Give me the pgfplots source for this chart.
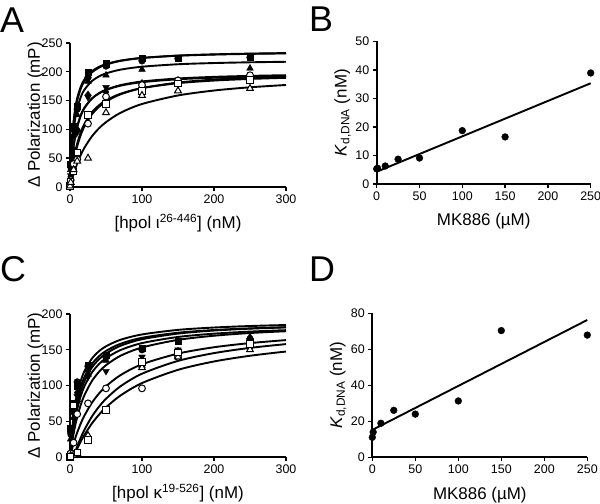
\documentclass[border=0pt]{standalone}
\usepackage{fontspec}
\setmainfont{Liberation Sans}
\usepackage{pgfplots}
\usepackage{pgfplotstable}
\pgfplotsset{compat=1.18}

% fitted binding curves, panel A
\pgfplotstableread{
x a1 a2 a3 a4 a5 a6 a7 a8
0 0 0 0 0 0 0 0 0
1 37.5 34.9 30.4 20.2 19.6 10.3 11.4 5.0
2 64.7 60.8 53.5 36.7 35.7 19.6 21.6 9.8
3 85.3 80.8 71.6 50.3 49.2 28.1 30.8 14.4
5 114.6 109.7 98.2 71.7 70.4 42.9 46.5 22.8
7.5 138.3 133.6 120.7 91.1 89.8 58.2 62.5 32.4
10 154.2 150.0 136.2 105.3 104.2 70.8 75.5 41.0
15 174.4 170.9 156.3 124.8 124.0 90.5 95.2 55.8
20 186.6 183.7 168.8 137.5 137.0 105.2 109.6 68.0
30 200.6 198.6 183.5 153.1 153.1 125.4 129.0 87.2
40 208.4 207.0 191.8 162.3 162.6 138.8 141.6 101.5
50 213.4 212.4 197.2 168.4 168.9 148.3 150.4 112.6
70 219.4 218.9 203.7 175.9 176.8 160.8 161.8 128.7
100 224.1 224.0 208.8 182.0 183.2 171.7 171.7 144.1
150 227.9 228.2 213.1 187.0 188.4 181.3 180.2 158.9
200 229.9 230.3 215.2 189.7 191.2 186.5 184.8 167.5
250 231.1 231.6 216.5 191.3 192.9 189.7 187.6 173.1
300 231.9 232.5 217.4 192.4 194.1 192.0 189.6 177.1
}\curvesA

% measured points, panel A
\pgfplotstableread{
x s1 s2 s3 s4 s5 s6 s7 s8
0 8 6 5 5 4 3 2 2
1 40 35 30 20 18 12 10 8
5 105 100 90 65 60 40 27 30
10 140 135 125 95 100 48 60 45
25 199 190 183 156 160 110 125 50
50 214 210 194 173 165 157 144 129
100 224 219 204 178 180 177 167 159
150 224 223 nan 183 185 185 180 167
250 226 225 206 188 190 194 186 171
}\ptsA

% fitted binding curves, panel C
\pgfplotstableread{
x c1 c2 c3 c4 c5 c6 c7 c8
0 0 0 0 0 0 0 0 0
1 14.8 12.7 9.9 11.2 7.6 4.1 0 0
2 27.4 23.8 18.8 21.2 14.6 8.0 0 0
3 38.4 33.5 26.9 30.2 21.1 11.8 0 0
5 56.5 50.0 40.9 45.5 32.8 18.8 0 0
7.5 73.8 66.3 55.3 61.0 45.2 26.9 7.6 6.0
10 87.3 79.2 67.1 73.5 55.9 34.2 14.6 11.6
15 106.7 98.3 85.5 92.4 73.1 47.0 27.1 21.8
20 120.0 111.8 98.9 106.1 86.4 57.8 38.0 30.8
30 137.1 129.5 117.5 124.6 105.6 75.2 55.9 46.3
40 147.7 140.7 129.7 136.4 118.8 88.5 70.0 58.9
50 154.8 148.4 138.2 144.7 128.4 98.9 81.4 69.4
70 163.9 158.3 149.5 155.5 141.5 114.4 98.8 85.9
100 171.4 166.7 159.3 164.7 153.2 129.7 116.5 103.4
150 177.8 173.8 167.9 172.6 163.8 144.6 134.4 121.9
200 181.1 177.6 172.5 176.9 169.6 153.5 145.3 133.6
250 183.2 179.9 175.4 179.5 173.4 159.3 152.6 141.6
300 184.6 181.5 177.4 181.3 175.9 163.5 157.9 147.5
}\curvesC

% measured points, panel C
\pgfplotstableread{
x s1 s2 s3 s4 s5 s6 s7 s8
0 3 2 2 2 2 2 0 0
1 40 35 25 30 30 5 2 1
5 75 70 55 60 65 20 3 72
10 100 105 80 85 90 60 5 6
25 128 127 115 112 120 75 30 24
50 142 140 135 120 138 96 nan 66
100 152 150 128 140 135 96 125 133
150 162 146 145 150 148 140 140 146
250 160 165 168 163 160 155 150 158
}\ptsC

\pgfplotsset{
  prism/.style={
    scale only axis,
    axis lines=left,
    axis line style={-, line width=2bp},
    every tick/.style={black, line width=1.4bp},
    tick align=outside,
    major tick length=4bp,
    enlargelimits=false,
    clip=false,
    /pgf/number format/assume math mode=true,
    ticklabel style={font=\fontsize{12.5}{14}\selectfont},
    label style={font=\fontsize{17}{20}\selectfont},
    xlabel style={at={(axis description cs:0.5,-0.29)}, anchor=base, inner sep=0pt},
    ylabel style={at={(axis description cs:-0.14,0.5)}, anchor=base, inner sep=0pt},
  },
  crv/.style={no marks, smooth, black, line width=1.9bp},
  mFsq/.style={only marks, mark=square*, mark size=3.2bp, mark options={fill=black, draw=black}},
  mFci/.style={only marks, mark=*, mark size=3.4bp, mark options={fill=black, draw=black}},
  mFtr/.style={only marks, mark=triangle*, mark size=3.9bp, mark options={fill=black, draw=black}},
  mFit/.style={only marks, mark=triangle*, mark size=3.9bp, mark options={fill=black, draw=black, rotate=180}},
  mFdi/.style={only marks, mark=diamond*, mark size=3.9bp, mark options={fill=black, draw=black}},
  mOci/.style={only marks, mark=*, mark size=3.4bp, mark options={fill=white, draw=black, line width=1bp}},
  mOsq/.style={only marks, mark=square*, mark size=3.2bp, mark options={fill=white, draw=black, line width=1bp}},
  mOtr/.style={only marks, mark=triangle*, mark size=3.9bp, mark options={fill=white, draw=black, line width=1bp}},
}

\begin{document}
\begin{tikzpicture}
\path[use as bounding box] (0,0) rectangle (600bp,504bp);
\tikzset{letter/.style={anchor=base west, inner sep=0pt, font=\fontsize{36}{40}\selectfont}}
\node[letter] at (0bp,471bp) {A};
\node[letter] at (309bp,472bp) {B};
\node[letter] at (0bp,222bp) {C};
\node[letter] at (309bp,222bp) {D};

% Panel A
\begin{axis}[prism, at={(70bp,317bp)}, anchor=south west,
  width=216bp, height=144bp,
  xmin=0, xmax=300, ymin=0, ymax=250,
  xtick={0,100,200,300}, ytick={0,50,...,250},
  xlabel={[hpol ι\textsuperscript{26-446}] (nM)},
  ylabel={Δ Polarization (mP)}]
\pgfplotsinvokeforeach{1,...,8}{\addplot[crv] table[x=x,y=a#1]{\curvesA};}
\addplot[mFsq] table[x=x,y=s1]{\ptsA};
\addplot[mFci] table[x=x,y=s2]{\ptsA};
\addplot[mFtr] table[x=x,y=s3]{\ptsA};
\addplot[mFit] table[x=x,y=s4]{\ptsA};
\addplot[mFdi] table[x=x,y=s5]{\ptsA};
\addplot[mOci] table[x=x,y=s6]{\ptsA};
\addplot[mOsq] table[x=x,y=s7]{\ptsA};
\addplot[mOtr] table[x=x,y=s8]{\ptsA};
\end{axis}

% Panel B
\begin{axis}[prism, at={(376.7bp,320bp)}, anchor=south west,
  width=214bp, height=142.7bp,
  xmin=0, xmax=250, ymin=0, ymax=50,
  xtick={0,50,...,250}, ytick={0,10,...,50},
  xlabel={MK886 (µM)},
  ylabel={\textit{K}\textsubscript{d,DNA} (nM)}]
\addplot[black, line width=1.9bp] coordinates {(0,4.3) (250,35.3)};
\addplot[mFci] coordinates {(0,5.3) (1,5.5) (10,6.3) (25,8.7) (50,9.1) (100,18.7) (150,16.5) (250,38.9)};
\end{axis}

% Panel C
\begin{axis}[prism, at={(70bp,47bp)}, anchor=south west,
  width=216bp, height=143bp,
  xmin=0, xmax=300, ymin=0, ymax=200,
  xtick={0,100,200,300}, ytick={0,50,...,200},
  xlabel={[hpol κ\textsuperscript{19-526}] (nM)},
  ylabel={Δ Polarization (mP)}]
\pgfplotsinvokeforeach{1,...,8}{\addplot[crv] table[x=x,y=c#1]{\curvesC};}
\addplot[mFsq] table[x=x,y=s1]{\ptsC};
\addplot[mFci] table[x=x,y=s2]{\ptsC};
\addplot[mFtr] table[x=x,y=s3]{\ptsC};
\addplot[mFit] table[x=x,y=s4]{\ptsC};
\addplot[mFdi] table[x=x,y=s5]{\ptsC};
\addplot[mOci] table[x=x,y=s6]{\ptsC};
\addplot[mOtr] table[x=x,y=s7]{\ptsC};
\addplot[mOsq] table[x=x,y=s8]{\ptsC};
\end{axis}

% Panel D
\begin{axis}[prism, at={(372.3bp,46.7bp)}, anchor=south west,
  width=215bp, height=144bp,
  xmin=0, xmax=250, ymin=0, ymax=80,
  xtick={0,50,...,250}, ytick={0,20,...,80},
  xlabel={MK886 (µM)},
  ylabel={\textit{K}\textsubscript{d,DNA} (nM)}]
\addplot[black, line width=1.9bp] coordinates {(0,15.2) (250,76.3)};
\addplot[mFci] coordinates {(0,11.1) (1,14) (10,18.9) (25,26.1) (50,24) (100,31.3) (150,70.4) (250,67.9)};
\end{axis}
\end{tikzpicture}
\end{document}
